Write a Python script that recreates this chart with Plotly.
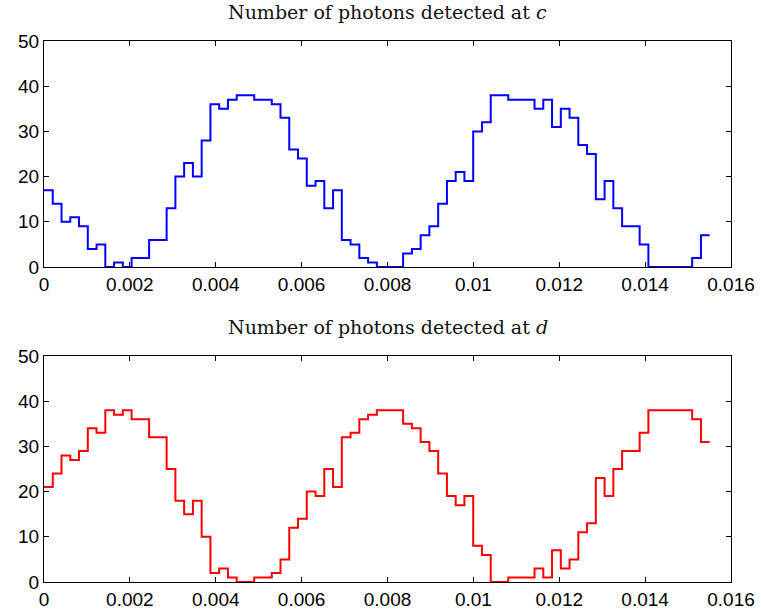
import plotly.graph_objects as go

# Data: photon counts per time bin
dt = 0.000204
counts_c = [17, 14, 10, 11, 9, 4, 5, 0, 1, 0,
            2, 2, 6, 6, 13, 20, 23, 20, 28, 36,
            35, 37, 38, 38, 37, 37, 36, 33, 26, 24,
            18, 19, 13, 17, 6, 5, 2, 1, 0, 0,
            0, 3, 4, 7, 9, 14, 19, 21, 19, 30,
            32, 38, 38, 37, 37, 37, 35, 37, 31, 35,
            33, 27, 25, 15, 19, 13, 9, 9, 5, 0,
            0, 0, 0, 0, 2, 7]
counts_d = [21, 24, 28, 27, 29, 34, 33, 38, 37, 38,
            36, 36, 32, 32, 25, 18, 15, 18, 10, 2,
            3, 1, 0, 0, 1, 1, 2, 5, 12, 14,
            20, 19, 25, 21, 32, 33, 36, 37, 38, 38,
            38, 35, 34, 31, 29, 24, 19, 17, 19, 8,
            6, 0, 0, 1, 1, 1, 3, 1, 7, 3,
            5, 11, 13, 23, 19, 25, 29, 29, 33, 38,
            38, 38, 38, 38, 36, 31]
x_tickvals = [0, 0.002, 0.004, 0.006, 0.008, 0.01, 0.012, 0.014, 0.016]
x_ticktext = ["0", "0.002", "0.004", "0.006", "0.008", "0.01", "0.012", "0.014", "0.016"]
y_tickvals = [0, 10, 20, 30, 40, 50]
titles = ["Number of photons detected at <i>c</i>", "Number of photons detected at <i>d</i>"]

def stairs(vals):
    xs = [k * dt for k in range(len(vals) + 1)]
    ys = list(vals) + [vals[-1]]
    return xs, ys

fig = go.Figure()
xc, yc = stairs(counts_c)
xd, yd = stairs(counts_d)
fig.add_trace(go.Scatter(x=xc, y=yc, mode="lines", line=dict(color="#0000ff", width=2, shape="hv"),
                         xaxis="x", yaxis="y", showlegend=False))
fig.add_trace(go.Scatter(x=xd, y=yd, mode="lines", line=dict(color="#ff0000", width=2, shape="hv"),
                         xaxis="x2", yaxis="y2", showlegend=False))

W, H = 761, 613
ml, mr, mt, mb = 44, 30, 41, 31
ph = H - mt - mb
sub_h = 226
top_dom = [(ph - sub_h) / ph, 1]
bot_dom = [0, sub_h / ph]

tickfont = dict(family="Liberation Sans, Arial", size=19, color="black")
xax = dict(range=[0, 0.016], tickvals=x_tickvals, ticktext=x_ticktext, ticks="inside", ticklen=5,
           tickcolor="black", showline=True, linecolor="black", linewidth=1, mirror="ticks",
           showgrid=False, zeroline=False, tickfont=tickfont, layer="below traces", automargin=False)
yax = dict(range=[0, 50], tickvals=y_tickvals, ticks="inside", ticklen=5,
           tickcolor="black", showline=True, linecolor="black", linewidth=1, mirror="ticks",
           showgrid=False, zeroline=False, tickfont=tickfont, layer="below traces", automargin=False)

fig.update_layout(
    width=W, height=H,
    margin=dict(l=ml, r=mr, t=mt, b=mb, autoexpand=False),
    paper_bgcolor="white", plot_bgcolor="white",
    xaxis=dict(xax, domain=[0, 1], anchor="y"),
    yaxis=dict(yax, domain=top_dom, anchor="x"),
    xaxis2=dict(xax, domain=[0, 1], anchor="y2"),
    yaxis2=dict(yax, domain=bot_dom, anchor="x2"),
)

for i, t in enumerate(titles):
    fig.add_annotation(text=t, xref="x domain" if i == 0 else "x2 domain",
                       yref="y domain" if i == 0 else "y2 domain",
                       x=0.5, y=1.0, yshift=16, xanchor="center", yanchor="bottom",
                       showarrow=False,
                       font=dict(family="DejaVu Serif", size=19, color="#111111"))

fig.write_html("out.html")
